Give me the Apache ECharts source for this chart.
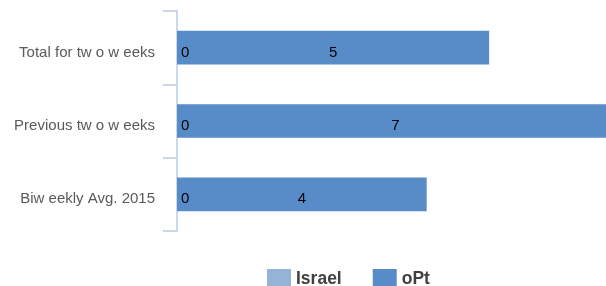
<!DOCTYPE html>
<html>
<head>
<meta charset="utf-8">
<script src="https://cdn.jsdelivr.net/npm/echarts@6/dist/echarts.min.js"></script>
<style>
  html, body { margin: 0; padding: 0; background: #fff; }
  #chart { width: 606px; height: 286px; }
</style>
</head>
<body>
<div id="chart"></div>
<script>
const categories = ['Total for tw o w eeks', 'Previous tw o w eeks', 'Biw eekly Avg. 2015']
const israelValues = [0, 0, 0]
const optValues = [5, 7, 4]

var myChart = echarts.init(document.getElementById('chart'))

var labelFont = {
  color: '#000',
  fontSize: 15,
  fontFamily: 'Liberation Sans, Arial, sans-serif'
}

myChart.setOption({
  backgroundColor: '#fff',
  animation: false,
  grid: {
    left: 177,
    right: -8,
    top: 11,
    bottom: 55,
    outerBoundsMode: 'none'
  },
  legend: {
    top: 264,
    left: 262,
    itemWidth: 24,
    itemHeight: 20,
    itemGap: 31,
    icon: 'rect',
    textStyle: {
      color: '#404040',
      fontSize: 17.5,
      fontWeight: 'bold',
      fontFamily: 'Liberation Sans, Arial, sans-serif'
    },
    data: ['Israel', 'oPt']
  },
  xAxis: {
    type: 'value',
    min: 0,
    max: 7,
    show: false
  },
  yAxis: {
    type: 'category',
    inverse: true,
    data: categories,
    axisLine: {
      lineStyle: { color: '#BDCCE0', width: 1.5 }
    },
    axisTick: {
      show: true,
      length: 14,
      lineStyle: { color: '#BDCCE0', width: 1.5 }
    },
    axisLabel: {
      color: '#595959',
      fontSize: 15,
      margin: 22,
      verticalAlign: 'top',
      lineHeight: 10,
      fontFamily: 'Liberation Sans, Arial, sans-serif'
    }
  },
  series: [
    {
      name: 'Israel',
      type: 'bar',
      stack: 'total',
      barWidth: '46%',
      clip: false,
      itemStyle: { color: '#95B3D7' },
      label: Object.assign({ show: true, position: 'right', distance: 4, offset: [0, 5] }, labelFont),
      data: israelValues
    },
    {
      name: 'oPt',
      type: 'bar',
      stack: 'total',
      barWidth: '46%',
      clip: false,
      itemStyle: { color: '#588CC8' },
      label: Object.assign({ show: true, position: 'inside', offset: [0, 5] }, labelFont),
      data: optValues
    }
  ]
})
</script>
</body>
</html>
